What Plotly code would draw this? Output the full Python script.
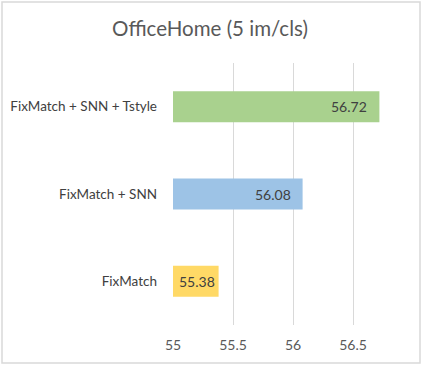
import plotly.graph_objects as go

categories = ["FixMatch", "FixMatch + SNN", "FixMatch + SNN + Tstyle"]
values = [55.38, 56.08, 56.72]
colors = ["#FFD966", "#9DC3E6", "#A9D18E"]
tick_vals = [55, 55.5, 56, 56.5]
tick_text = ["55", "55.5", "56", "56.5"]
title_text = "OfficeHome (5 im/cls)"
axis_base = 55
x_range = [55, 56.8]

FONT = "Lato"
W, H = 423, 366
ml, mr, mt, mb = 173, 34, 63, 41
pw = W - ml - mr
ph = H - mt - mb

fig = go.Figure()
fig.add_trace(go.Bar(
    y=categories, x=[v - axis_base for v in values], base=axis_base,
    orientation="h",
    marker=dict(color=colors, line=dict(width=0)),
    width=0.355,
    hoverinfo="skip",
))

for c, v in zip(categories, values):
    bar_px = (v - x_range[0]) / (x_range[1] - x_range[0]) * pw
    shift = -10 if bar_px > 70 else -2
    fig.add_annotation(x=v, y=c, text=f"{v:.2f}", showarrow=False,
                       xanchor="right", xshift=shift,
                       font=dict(family=FONT, size=14, color="#404040"))

# outer border
fig.add_shape(type="rect", xref="paper", yref="paper",
              x0=(2 - ml) / pw, x1=(420 - ml) / pw,
              y0=(H - mb - 363) / ph, y1=(H - mb - 2) / ph,
              line=dict(color="#D9D9D9", width=1.5), layer="below")

fig.update_layout(
    width=W, height=H,
    margin=dict(l=ml, r=mr, t=mt, b=mb, autoexpand=False),
    paper_bgcolor="white", plot_bgcolor="white",
    showlegend=False,
    title=dict(text=title_text, x=210 / W, xref="container", xanchor="center",
               y=1 - 29 / H, yanchor="middle",
               font=dict(family=FONT, size=20.5, color="#595959")),
    font=dict(family=FONT, color="#595959"),
)
fig.update_xaxes(range=x_range, tickvals=tick_vals, ticktext=tick_text,
                 showgrid=True, gridcolor="#D9D9D9", gridwidth=1,
                 zeroline=False, showline=False, ticks="", automargin=False,
                 tickfont=dict(family=FONT, size=14, color="#595959"),
                 ticklabelstandoff=10)
fig.update_yaxes(categoryorder="array", categoryarray=categories,
                 range=[-0.5, 2.5], showgrid=False, zeroline=False,
                 showline=False, ticks="", automargin=False,
                 tickfont=dict(family=FONT, size=13.5, color="#404040"),
                 ticklabelstandoff=15)

fig.write_html("out.html", config={"displayModeBar": False, "staticPlot": True},
               post_script="document.body.style.margin='0';document.body.style.overflow='hidden';")
